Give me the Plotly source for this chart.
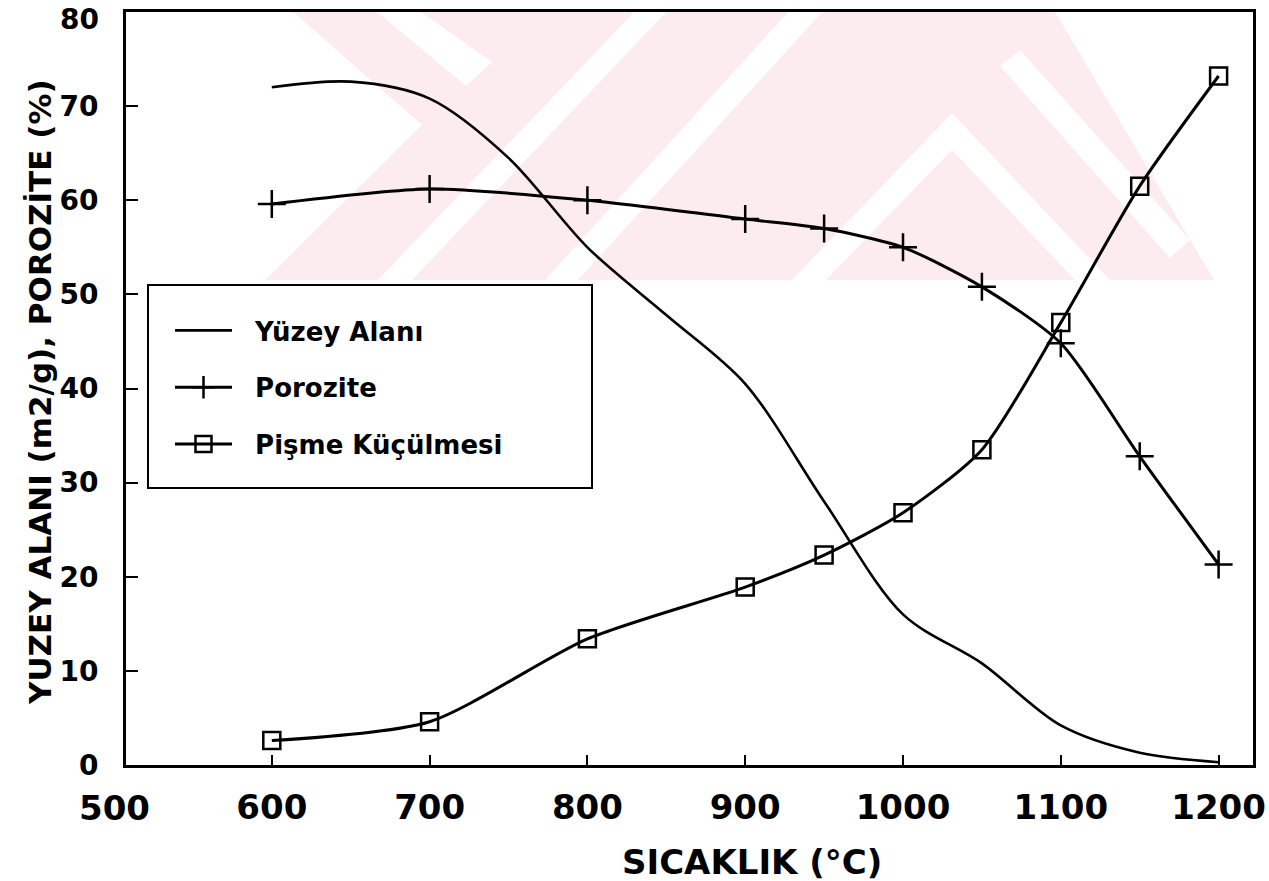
import plotly.graph_objects as go

# ---------------- data ----------------
yuzey_temp = [600, 650, 700, 750, 800, 850, 900, 950, 1000, 1050, 1100, 1150, 1200]
yuzey_alani = [72.0, 72.6, 70.8, 64.5, 55.0, 47.8, 40.5, 28.0, 16.0, 10.8, 4.2, 1.3, 0.3]

temp = [600, 700, 800, 900, 950, 1000, 1050, 1100, 1150, 1200]
porozite = [59.6, 61.2, 60.0, 58.0, 57.0, 55.0, 50.8, 44.8, 32.8, 21.3]
pisme = [2.6, 4.6, 13.4, 18.9, 22.3, 26.8, 33.5, 47.0, 61.5, 73.2]

x_ticks = [600, 700, 800, 900, 1000, 1100, 1200]
y_ticks = [0, 10, 20, 30, 40, 50, 60, 70, 80]
y_tick_text = ["0", "10", "20", "30", "40", "50", "60", "70", ""]  # 80 drawn below as text

names = ["Yüzey Alanı", "Porozite", "Pişme Küçülmesi"]
x_title = "SICAKLIK (°C)"
y_title = "YUZEY ALANI (m2/g), POROZİTE (%)"

# ---------------- layout geometry ----------------
W, H = 1269, 881
L, R, T, B = 126, 1253, 12, 765
X_RANGE = [507.6, 1221.8]
Y_RANGE = [0, 80]


def pp(x, y):
    return (x - L) / (R - L), (B - y) / (B - T)


def path(points):
    s = ""
    for i, (x, y) in enumerate(points):
        px, py = pp(x, y)
        s += ("M" if i == 0 else "L") + f"{px:.5f},{py:.5f} "
    return s + "Z"


FONT = "DejaVu Sans"
PINK = "#fdecef"
NB = "\u00a0\u00a0"

fig = go.Figure()

fig.add_trace(go.Scatter(
    x=yuzey_temp, y=yuzey_alani, name=NB + names[0], mode="lines",
    line=dict(color="black", width=2.6, shape="spline", smoothing=0.9),
    legendgroup="a"))
fig.add_trace(go.Scatter(
    x=temp, y=porozite, name=NB + names[1], mode="lines+markers",
    line=dict(color="black", width=3, shape="spline", smoothing=0.7),
    marker=dict(symbol="cross-thin", size=20, line=dict(color="black", width=2.5)),
    legendgroup="b"))
fig.add_trace(go.Scatter(
    x=temp, y=pisme, name=NB + names[2], mode="lines+markers",
    line=dict(color="black", width=3, shape="spline", smoothing=0.7),
    marker=dict(symbol="square-open", size=17, color="black", line=dict(color="black", width=2.5)),
    legendgroup="c"))

shapes = []
# faint watermark (approximation)
shapes.append(dict(type="path", xref="paper", yref="paper", layer="below",
                   path=path([(291, 10), (422, 125), (265, 280), (1214, 280), (1054, 10)]),
                   fillcolor=PINK, line=dict(width=0)))
white_stripes = [
    [(375, 10), (418, 10), (492, 62), (466, 86)],
    [(636, 10), (668, 10), (412, 280), (378, 280)],
    [(790, 10), (824, 10), (578, 280), (545, 280)],
    [(792, 280), (952, 113), (1110, 280), (1075, 280), (952, 150), (826, 280)],
    [(1000, 66), (1020, 50), (1190, 240), (1170, 258)],
]
for st in white_stripes:
    shapes.append(dict(type="path", xref="paper", yref="paper", layer="below",
                       path=path(st), fillcolor="white", line=dict(width=0)))
# legend frame
x0, y0 = pp(148, 488)
x1, y1 = pp(592, 285)
shapes.append(dict(type="rect", xref="paper", yref="paper", layer="below",
                   x0=x0, y0=y0, x1=x1, y1=y1, fillcolor="white",
                   line=dict(color="black", width=2)))

lx, ly = pp(170, 307)
ax, ay = pp(752, 862)
yx, yy = pp(40, 392)
lab80_x, _ = pp(97, 0)

tick_font = dict(family=FONT, size=28, color="black", weight="bold")

annotations = [
    dict(text=x_title, xref="paper", yref="paper", x=ax, y=ay, showarrow=False,
         font=dict(family=FONT, size=34, color="black", weight="bold"),
         xanchor="center", yanchor="middle"),
    dict(text=y_title, xref="paper", yref="paper", x=yx, y=yy, showarrow=False, textangle=-90,
         font=dict(family=FONT, size=31, color="black", weight="bold"),
         xanchor="center", yanchor="middle"),
    dict(text="500", xref="x domain", yref="paper",
         x=(500 - X_RANGE[0]) / (X_RANGE[1] - X_RANGE[0]), y=0, showarrow=False,
         xanchor="center", yanchor="top", yshift=-21,
         font=dict(family=FONT, size=34, color="black", weight="bold")),
    dict(text=str(y_ticks[-1]), xref="paper", yref="y", x=lab80_x, y=y_ticks[-1],
         showarrow=False, xanchor="right", yanchor="middle", yshift=-7, xshift=4,
         font=tick_font),
]

fig.update_layout(
    width=W, height=H,
    margin=dict(l=L, r=W - R, t=T, b=H - B, pad=0, autoexpand=False),
    paper_bgcolor="white", plot_bgcolor="rgba(0,0,0,0)",
    shapes=shapes, annotations=annotations,
    showlegend=True,
    legend=dict(x=lx, y=ly, xanchor="left", yanchor="top",
                bgcolor="rgba(0,0,0,0)", borderwidth=0,
                font=dict(family=FONT, size=26, color="black", weight="bold"),
                itemwidth=57, tracegroupgap=20),
    xaxis=dict(range=X_RANGE, tickvals=x_ticks, ticks="inside", ticklen=10, tickwidth=2,
               tickcolor="black", showline=True, linewidth=3, linecolor="black", mirror=True,
               showgrid=False, zeroline=False, ticklabelstandoff=10, automargin=False,
               ticklabeloverflow="allow",
               tickfont=dict(family=FONT, size=34, color="black", weight="bold")),
    yaxis=dict(range=Y_RANGE, tickvals=y_ticks, ticktext=y_tick_text, ticks="inside",
               ticklen=12, tickwidth=2,
               tickcolor="black", showline=True, linewidth=3, linecolor="black", mirror=True,
               showgrid=False, zeroline=False, ticklabelstandoff=19, automargin=False,
               ticklabeloverflow="allow", tickfont=tick_font),
)

fig.write_html("out.html")
